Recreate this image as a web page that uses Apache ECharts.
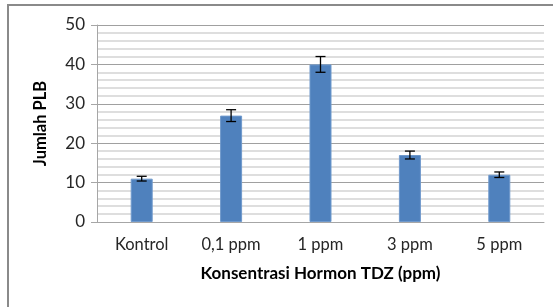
<!DOCTYPE html>
<html>
<head>
<meta charset="utf-8">
<script src="https://cdn.jsdelivr.net/npm/echarts@6/dist/echarts.min.js"></script>
<style>
  html, body { margin: 0; padding: 0; background: #fff; }
  #chart { width: 553px; height: 307px; }
</style>
</head>
<body>
<div id="chart"></div>
<script>
// data
const categories = ['Kontrol', '0,1 ppm', '1 ppm', '3 ppm', '5 ppm']
const plbMean = [11, 27, 40, 17, 12]
const plbErr = [0.6, 1.5, 2, 1, 0.7]
const yTicks = [0, 10, 20, 30, 40, 50]

const fontFamily = 'Lato, "Liberation Sans", sans-serif'

const chart = echarts.init(document.getElementById('chart'))

const errData = categories.map((c, i) => [i, plbMean[i] - plbErr[i], plbMean[i] + plbErr[i]])

chart.setOption({
  animation: false,
  graphic: [
    {
      type: 'rect',
      shape: { x: 8, y: 5, width: 700, height: 500 },
      style: { fill: 'none', stroke: '#8a8a8a', lineWidth: 2 },
      z: 100
    }
  ],
  grid: {
    left: 97,
    right: 9,
    top: 25,
    bottom: 85
  },
  xAxis: {
    type: 'category',
    data: categories,
    axisLine: { lineStyle: { color: '#a6a6a6', width: 1 } },
    axisTick: { show: false },
    axisLabel: { color: '#262626', fontSize: 16.5, fontFamily: fontFamily, margin: 14 },
    name: 'Konsentrasi Hormon TDZ (ppm)',
    nameLocation: 'middle',
    nameGap: 43,
    nameTextStyle: { color: '#000', fontSize: 17, fontWeight: 'bold', fontFamily: fontFamily }
  },
  yAxis: {
    type: 'value',
    min: yTicks[0],
    max: yTicks[yTicks.length - 1],
    interval: 10,
    minorTick: { show: false, splitNumber: 5 },
    axisLine: { show: true, lineStyle: { color: '#a6a6a6', width: 1 } },
    axisTick: { show: true, length: 6, lineStyle: { color: '#a6a6a6' } },
    axisLabel: { color: '#262626', fontSize: 17, fontFamily: fontFamily, margin: 12 },
    splitLine: { lineStyle: { color: '#a0a0a0', width: 1 } },
    minorSplitLine: { show: true, lineStyle: { color: '#d4d4d4', width: 1.5 } },
    name: 'Jumlah PLB',
    nameLocation: 'middle',
    nameGap: 48,
    nameTextStyle: { color: '#000', fontSize: 16.5, fontWeight: 'bold', fontFamily: fontFamily }
  },
  series: [
    {
      type: 'bar',
      data: plbMean,
      barWidth: 22,
      itemStyle: { color: '#4f81bd', borderColor: '#6f99cc', borderWidth: 1 }
    },
    {
      type: 'custom',
      data: errData,
      z: 10,
      renderItem: function (params, api) {
        const x = api.value(0)
        const lo = api.coord([x, api.value(1)])
        const hi = api.coord([x, api.value(2)])
        const half = 5
        const style = { stroke: '#000', lineWidth: 1.3 }
        return {
          type: 'group',
          children: [
            { type: 'line', shape: { x1: hi[0], y1: hi[1], x2: lo[0], y2: lo[1] }, style: style },
            { type: 'line', shape: { x1: hi[0] - half, y1: hi[1], x2: hi[0] + half, y2: hi[1] }, style: style },
            { type: 'line', shape: { x1: lo[0] - half, y1: lo[1], x2: lo[0] + half, y2: lo[1] }, style: style }
          ]
        }
      }
    }
  ]
})
</script>
</body>
</html>
